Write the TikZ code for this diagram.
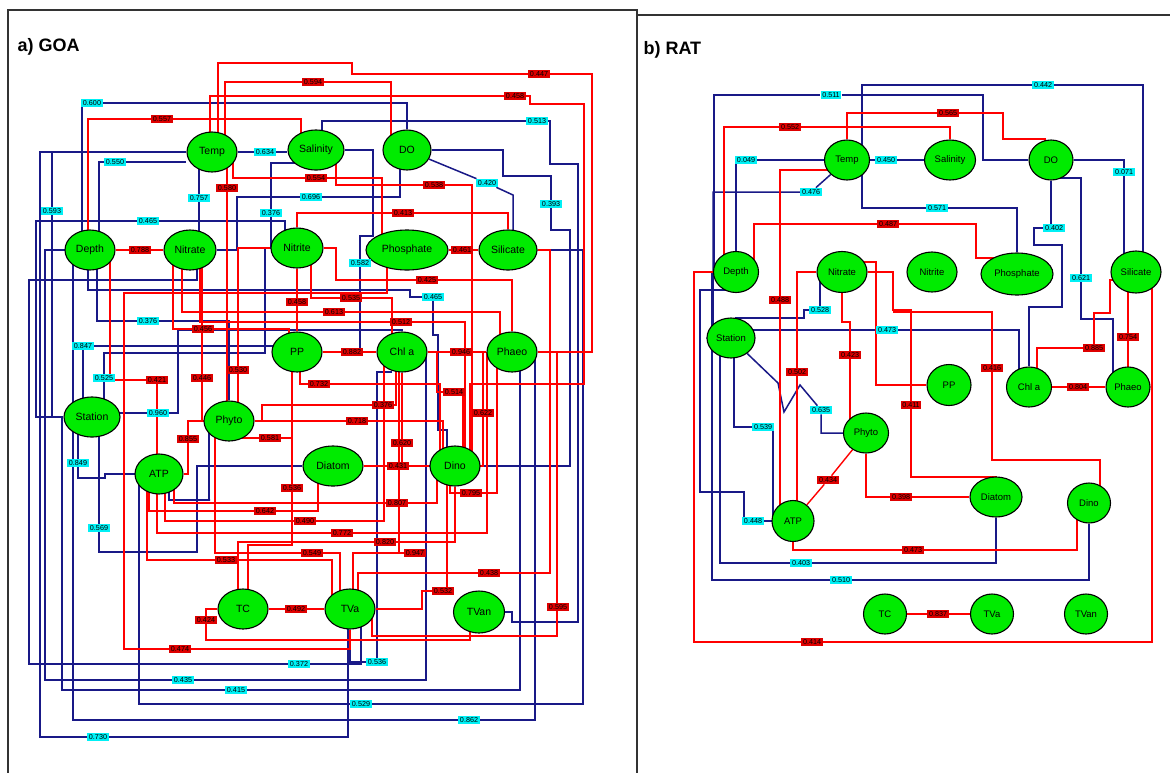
\documentclass[tikz,border=0pt]{standalone}
\usepackage{fontspec}
\setmainfont{Liberation Sans}
\usetikzlibrary{shapes.geometric}
\pgfdeclarelayer{bg}
\pgfdeclarelayer{edges}
\pgfsetlayers{bg,edges,main}
\definecolor{ngreen}{RGB}{0,235,0}
\definecolor{ncyan}{RGB}{0,240,245}
\definecolor{nlred}{RGB}{222,0,0}
\definecolor{nred}{RGB}{255,0,0}
\definecolor{nblue}{RGB}{25,25,135}
\begin{document}
\begin{tikzpicture}[x=1pt,y=-1pt,
  gn/.style={ellipse,draw=black,line width=1.1pt,fill=ngreen,inner sep=0pt,font=\fontsize{10.5}{11}\selectfont},
  gr/.style={gn,font=\fontsize{9.5}{10}\selectfont},
  cl/.style={fill=ncyan,inner xsep=1.6pt,inner ysep=1.6pt,font=\fontsize{7.2}{7.2}\selectfont},
  rl/.style={fill=nlred,inner xsep=1.6pt,inner ysep=1.6pt,font=\fontsize{7.2}{7.2}\selectfont},
  bl/.style={draw=nblue,line width=1.5pt},
  rd/.style={draw=nred,line width=1.4pt},
  frame/.style={draw=black!80,line width=1.4pt}]
\useasboundingbox (0,0) rectangle (1170,772);
\begin{pgfonlayer}{bg}
\fill[white] (0,0) rectangle (1170,772);
\end{pgfonlayer}
% frames
\draw[frame] (8,790) -- (8,10) -- (637,10) -- (637,790);
\draw[frame] (637,15) -- (1172,15);
\node[anchor=west,font=\fontsize{18}{20}\selectfont\bfseries] (ta) at (14,47) {a) GOA};
\node[anchor=west,font=\fontsize{18}{20}\selectfont\bfseries] (tb) at (640,50) {b) RAT};

% ===== left nodes =====
\node[gn,minimum width=50,minimum height=40] (Temp) at (212,152) {Temp};
\node[gn,minimum width=56,minimum height=40] (Salinity) at (316,150) {Salinity};
\node[gn,minimum width=48,minimum height=40] (DO) at (407,150) {DO};
\node[gn,minimum width=50,minimum height=40] (Depth) at (90,250) {Depth};
\node[gn,minimum width=52,minimum height=40] (Nitrate) at (190,250) {Nitrate};
\node[gn,minimum width=52,minimum height=40] (Nitrite) at (297,248) {Nitrite};
\node[gn,minimum width=82,minimum height=40] (Phosphate) at (407,250) {Phosphate};
\node[gn,minimum width=58,minimum height=40] (Silicate) at (508,250) {Silicate};
\node[gn,minimum width=50,minimum height=40] (PP) at (297,352) {PP};
\node[gn,minimum width=50,minimum height=40] (Chla) at (402,352) {Chl a};
\node[gn,minimum width=50,minimum height=40] (Phaeo) at (512,352) {Phaeo};
\node[gn,minimum width=56,minimum height=40] (Station) at (92,417) {Station};
\node[gn,minimum width=50,minimum height=40] (Phyto) at (229,421) {Phyto};
\node[gn,minimum width=48,minimum height=40] (ATP) at (159,474) {ATP};
\node[gn,minimum width=60,minimum height=40] (Diatom) at (333,466) {Diatom};
\node[gn,minimum width=50,minimum height=40] (Dino) at (455,466) {Dino};
\node[gn,minimum width=50,minimum height=40] (TC) at (243,609) {TC};
\node[gn,minimum width=50,minimum height=40] (TVa) at (350,609) {TVa};
\node[gn,minimum width=51,minimum height=42] (TVan) at (479,612) {TVan};

% ===== left labels (cyan) =====
\node[cl] (c600) at (92,103) {0.600};
\node[cl] (c550) at (115,162) {0.550};
\node[cl] (c593) at (52,211) {0.593};
\node[cl] (c465a) at (148,221) {0.465};
\node[cl] (c757) at (199,198) {0.757};
\node[cl] (c634) at (265,152) {0.634};
\node[cl] (c376a) at (271,213) {0.376};
\node[cl] (c696) at (311,197) {0.696};
\node[cl] (c420) at (487,183) {0.420};
\node[cl] (c513) at (537,121) {0.513};
\node[cl] (c393) at (551,204) {0.393};
\node[cl] (c582) at (360,263) {0.582};
\node[cl] (c465b) at (433,297) {0.465};
\node[cl] (c376b) at (148,321) {0.376};
\node[cl] (c847) at (83,346) {0.847};
\node[cl] (c525) at (104,378) {0.525};
\node[cl] (c960) at (158,413) {0.960};
\node[cl] (c849) at (78,463) {0.849};
\node[cl] (c569) at (99,528) {0.569};
\node[cl] (c372) at (299,664) {0.372};
\node[cl] (c536) at (377,662) {0.536};
\node[cl] (c435) at (183,680) {0.435};
\node[cl] (c415) at (236,690) {0.415};
\node[cl] (c529) at (361,704) {0.529};
\node[cl] (c862) at (469,720) {0.862};
\node[cl] (c730) at (98,737) {0.730};

% ===== left labels (red) =====
\node[rl] (r594) at (313,82) {0.594};
\node[rl] (r447) at (539,74) {0.447};
\node[rl] (r458a) at (515,96) {0.458};
\node[rl] (r557) at (162,119) {0.557};
\node[rl] (r554) at (316,178) {0.554};
\node[rl] (r580) at (227,188) {0.580};
\node[rl] (r538) at (434,185) {0.538};
\node[rl] (r413) at (403,213) {0.413};
\node[rl] (r788) at (140,250) {0.788};
\node[rl] (r461) at (462,250) {0.461};
\node[rl] (r425) at (427,280) {0.425};
\node[rl] (r535) at (351,298) {0.535};
\node[rl] (r458b) at (297,302) {0.458};
\node[rl] (r613) at (334,312) {0.613};
\node[rl] (r512) at (401,322) {0.512};
\node[rl] (r456) at (203,329) {0.456};
\node[rl] (r421) at (157,380) {0.421};
\node[rl] (r446) at (202,378) {0.446};
\node[rl] (r530) at (238,370) {0.530};
\node[rl] (r732) at (319,384) {0.732};
\node[rl] (r882) at (352,352) {0.882};
\node[rl] (r946) at (461,352) {0.946};
\node[rl] (r514) at (454,392) {0.514};
\node[rl] (r376c) at (383,405) {0.376};
\node[rl] (r718) at (357,421) {0.718};
\node[rl] (r622) at (483,413) {0.622};
\node[rl] (r620) at (402,443) {0.620};
\node[rl] (r431) at (398,466) {0.431};
\node[rl] (r855) at (188,439) {0.855};
\node[rl] (r581) at (270,438) {0.581};
\node[rl] (r536r) at (292,488) {0.536};
\node[rl] (r795) at (471,493) {0.795};
\node[rl] (r807) at (397,503) {0.807};
\node[rl] (r642) at (265,511) {0.642};
\node[rl] (r490) at (305,521) {0.490};
\node[rl] (r772) at (342,533) {0.772};
\node[rl] (r820) at (385,542) {0.820};
\node[rl] (r549) at (312,553) {0.549};
\node[rl] (r947) at (415,553) {0.947};
\node[rl] (r533) at (226,560) {0.533};
\node[rl] (r438) at (489,573) {0.438};
\node[rl] (r532) at (443,591) {0.532};
\node[rl] (r424) at (206,620) {0.424};
\node[rl] (r492) at (296,609) {0.492};
\node[rl] (r474) at (180,649) {0.474};
\node[rl] (r595) at (558,607) {0.595};

% ===== right nodes =====
\node[gr,minimum width=45,minimum height=40] (RTemp) at (847,160) {Temp};
\node[gr,minimum width=51,minimum height=40] (RSal) at (950,160) {Salinity};
\node[gr,minimum width=44,minimum height=40] (RDO) at (1051,160) {DO};
\node[gr,minimum width=45,minimum height=41] (RDepth) at (736,272) {Depth};
\node[gr,minimum width=50,minimum height=41] (RNitrate) at (842,272) {Nitrate};
\node[gr,minimum width=50,minimum height=40] (RNitrite) at (932,272) {Nitrite};
\node[gr,minimum width=72,minimum height=42] (RPhos) at (1017,274) {Phosphate};
\node[gr,minimum width=50,minimum height=42] (RSil) at (1136,272) {Silicate};
\node[gr,minimum width=48,minimum height=40] (RStation) at (731,338) {Station};
\node[gr,minimum width=44,minimum height=41] (RPP) at (949,385) {PP};
\node[gr,minimum width=45,minimum height=40] (RChla) at (1029,387) {Chl a};
\node[gr,minimum width=44,minimum height=40] (RPhaeo) at (1128,387) {Phaeo};
\node[gr,minimum width=45,minimum height=40] (RPhyto) at (866,433) {Phyto};
\node[gr,minimum width=52,minimum height=40] (RDiatom) at (996,497) {Diatom};
\node[gr,minimum width=43,minimum height=40] (RDino) at (1089,503) {Dino};
\node[gr,minimum width=42,minimum height=41] (RATP) at (793,521) {ATP};
\node[gr,minimum width=43,minimum height=40] (RTC) at (885,614) {TC};
\node[gr,minimum width=43,minimum height=40] (RTVa) at (992,614) {TVa};
\node[gr,minimum width=43,minimum height=40] (RTVan) at (1086,614) {TVan};

% ===== right labels =====
\node[cl] (Rl511) at (831,95) {0.511};
\node[cl] (Rl442) at (1043,85) {0.442};
\node[cl] (Rl571) at (937,208) {0.571};
\node[cl] (Rl049) at (746,160) {0.049};
\node[cl] (Rl476) at (811,192) {0.476};
\node[cl] (Rl450) at (886,160) {0.450};
\node[cl] (Rl071) at (1124,172) {0.071};
\node[cl] (Rl402) at (1054,228) {0.402};
\node[cl] (Rl621) at (1081,278) {0.621};
\node[cl] (Rl528) at (820,310) {0.528};
\node[cl] (Rl473) at (887,330) {0.473};
\node[cl] (Rl635) at (821,410) {0.635};
\node[cl] (Rl539) at (763,427) {0.539};
\node[cl] (Rl448) at (753,521) {0.448};
\node[cl] (Rl403) at (801,563) {0.403};
\node[cl] (Rl510) at (841,580) {0.510};
\node[rl] (Rl552) at (790,127) {0.552};
\node[rl] (Rl565) at (948,113) {0.565};
\node[rl] (Rl488) at (780,300) {0.488};
\node[rl] (Rl487) at (888,224) {0.487};
\node[rl] (Rl414) at (812,642) {0.414};
\node[rl] (Rl502) at (797,372) {0.502};
\node[rl] (Rl423) at (850,355) {0.423};
\node[rl] (Rl411) at (911,405) {0.411};
\node[rl] (Rl416) at (992,368) {0.416};
\node[rl] (Rl434) at (828,480) {0.434};
\node[rl] (Rl398) at (901,497) {0.398};
\node[rl] (Rl473r) at (913,550) {0.473};
\node[rl] (Rl837) at (938,614) {0.837};
\node[rl] (Rl804) at (1078,387) {0.804};
\node[rl] (Rl754) at (1128,337) {0.754};
\node[rl] (Rl885) at (1094,348) {0.885};

\begin{pgfonlayer}{edges}
% ----- left blue -----
\draw[bl] ([xshift=-8pt]Depth.center) |- (c600) -| (DO);
\draw[bl] ([xshift=9pt]Depth.center) |- (c550) -- (Temp.west |- c550);
\draw[bl] (Temp) -| (c593) |- (Station);
\draw[bl] ([xshift=-12pt]Nitrite.center) |- (c465a) -| (36,417) -- (Station);
\draw[bl] (c757 |- Temp) -- (c757 |- Nitrate);
\draw[bl] (Temp) -- (c634) -- (Salinity.west |- c634);
\draw[bl] ([yshift=-13pt]Salinity.center) -| (c376a) |- (Nitrite);
\draw[bl] (Nitrate) -| (237,197) -- (c696) -| ([xshift=-7pt]DO.center);
\draw[bl] (DO) -- (c420) -- (513,195) |- (Silicate);
\draw[bl] ([xshift=6pt]Salinity.center) |- (c513) -| (550,164) -| (578,622) -- (512,622) |- (TVan);
\draw[bl] (DO) -| (503,176) -| (c393) -- (551,230) -| (570,466) -- (Dino);
\draw[bl] (Salinity) -| (373,236) -| (c582) |- (Chla);
\draw[bl] ([xshift=-2pt]Depth.center) |- (410,290) |- (c465b) |- (438,335) |- (447,430) |- (Dino);
\draw[bl] ([xshift=7pt]Depth.center) |- (c376b) -| (Phyto);
\draw[bl] ([xshift=-9pt]Station.center) |- (c847) -- (c847 -| PP);
\draw[bl] ([xshift=12pt]Station.center) |- (c525) |- (265,353) |- (Nitrite);
\draw[bl] ([yshift=4pt]Station.center) -- (c960) -| (178,330) -| (Chla);
\draw[bl] (c849 |- Station) -- (c849) |- (105,478) |- (ATP);
\draw[bl] (c569 |- Station) -- (c569) |- (197,552) |- (Diatom);
\draw[bl] ([xshift=7pt]Nitrate.center) |- (29,280) |- (c372) -| ([xshift=11pt]TVa.center);
\draw[bl] ([xshift=-10pt,yshift=-20pt]Chla.center) -| (c536) -| (TVa);
\draw[bl] ([xshift=24pt]Chla.center) |- (c435) -| (45,250) -- (Depth);
\draw[bl] ([xshift=8pt]Phaeo.center) |- (c415) -| (62,417) -- (Station);
\draw[bl] (Silicate) -| (583,704) -- (c529) -| (139,474) -- (ATP);
\draw[bl] ([xshift=23pt]Phaeo.center) |- (c862) -| (73,250) -- (Depth);
\draw[bl] ([xshift=-2pt]TVa.center) |- (c730) -| (40,152) -- (Temp);
\draw[bl] ([xshift=-20pt]Phyto.center) |- (210,500) -| ([xshift=10pt]ATP.center);
% ----- left red -----
\draw[rd] ([xshift=13pt]Temp.center) |- (r594) -| ([xshift=-16pt]DO.center);
\draw[rd] ([xshift=6pt]Temp.center) |- (352,63) |- (r447) -| (592,352) -- (Phaeo);
\draw[rd] ([xshift=-2pt]Temp.center) |- (r458a) -| (530,104) -| (584,384) -| (470,465);
\draw[rd] ([xshift=-2pt]Depth.center) |- (r557) -| ([xshift=-15pt]Salinity.center);
\draw[rd] ([xshift=21pt]Temp.center) |- (r554) -| ([xshift=-25pt]Phosphate.center);
\draw[rd] (r580 |- Temp) -- (r580 |- Phyto);
\draw[rd] ([xshift=20pt]Salinity.center) |- (r538) -| (472,465);
\draw[rd] (Nitrite) |- (r413) -| (Silicate);
\draw[rd] (Depth) -- (r788) -- (Nitrate);
\draw[rd] (Phosphate) -- (r461) -- (Silicate);
\draw[rd] (Nitrite) -| (336,280) -- (r425) -| (Phaeo);
\draw[rd] ([xshift=14pt]Nitrite.center) |- (r535) -| ([xshift=-10pt]Chla.center);
\draw[rd] (Nitrite) -- (r458b) -- (PP);
\draw[rd] ([xshift=-8pt]Nitrate.center) |- (r613) -| ([xshift=-12pt]Phaeo.center);
\draw[rd] ([xshift=10pt]Nitrate.center) |- (r512) -| ([xshift=10pt]Dino.center);
\draw[rd] ([xshift=-17pt]Nitrate.center) |- (r456) -| ([xshift=-8pt]PP.center);
\draw[rd] ([xshift=20pt]Depth.center) |- (r421) -- (r421 |- ATP);
\draw[rd] (r446 |- Nitrate) -- (r446) |- ([xshift=-10pt]Phyto.center);
\draw[rd] (Nitrite) -| (r530) -- (r530 |- Phyto);
\draw[rd] (PP) -- (r882) -- (Chla);
\draw[rd] (Chla) -- (r946) -- (Phaeo);
\draw[rd] ([xshift=3pt]PP.center) |- (r732) -| ([xshift=-15pt]Dino.center);
\draw[rd] (Chla) -| (437,392) -- (r514) -| (463,465);
\draw[rd] (Phyto) -| (262,405) -- (r376c) -| ([xshift=-6pt]Chla.center);
\draw[rd] (Phyto) -- (r718) -| ([xshift=-12pt]Dino.center);
\draw[rd] (r622 |- Phaeo) -- (r622) |- ([xshift=20pt]Dino.center);
\draw[rd] (Chla) -- (r620) |- (Diatom);
\draw[rd] (Diatom) -- (r431) -- (Dino);
\draw[rd] (Phyto) -| (r855) |- (ATP);
\draw[rd] ([xshift=10pt,yshift=-17pt]Phyto.center) -- (r581) -| ([xshift=-5pt]PP.center);
\draw[rd] (r536r |- PP) -- (r536r) |- (248,545) -- ([xshift=5pt]TC.center);
\draw[rd] ([xshift=-15pt]Phaeo.center) |- (r795) -| ([xshift=-5pt]Dino.center);
\draw[rd] ([xshift=15pt]ATP.center) |- (r807) -| ([xshift=-18pt]Dino.center);
\draw[rd] ([xshift=-10pt]ATP.center) |- (r642) -| ([xshift=-15pt]Diatom.center);
\draw[rd] ([xshift=6pt]ATP.center) |- (r490) -| ([xshift=-18pt]Chla.center);
\draw[rd] ([xshift=-2pt]ATP.center) |- (r772) -| ([xshift=-25pt]Phaeo.center);
\draw[rd] ([xshift=-5pt]TC.center) |- (r820) -| (Dino);
\draw[rd] ([xshift=-14pt]Phyto.center) |- (r549) -| ([xshift=-10pt]TVa.center);
\draw[rd] ([xshift=3pt]TVa.center) |- (r947) -| ([xshift=-3pt]Chla.center);
\draw[rd] ([xshift=-12pt]ATP.center) |- (r533) -| ([xshift=-18pt]TVa.center);
\draw[rd] (Silicate) -| (550,573) -- (r438) -| ([xshift=8pt]TVa.center);
\draw[rd] (TVa) -| (422,591) -- (r532) -| ([xshift=-8pt]Dino.center);
\draw[rd] (TC) -| (r424) |- (470,640) -- ([xshift=-9pt]TVan.center);
\draw[rd] (TC) -- (r492) -- (TVa);
\draw[rd] (TVa) |- (r474) -| (124,293) -| ([xshift=-20pt]Phosphate.center);
\draw[rd] ([xshift=22pt]TVa.center) |- (557,636) |- (Phaeo);
% ----- right blue -----
\draw[bl] ([xshift=-22pt]RDepth.center) |- (Rl511) -| (983,160) -- (RDO);
\draw[bl] ([xshift=15pt]RTemp.center) |- (Rl442) -| ([xshift=7pt]RSil.center);
\draw[bl] ([xshift=15pt]RTemp.center) |- (Rl571) -| (RPhos);
\draw[bl] (RTemp) -- (Rl049) -| (RDepth);
\draw[bl] (RTemp) -- (Rl476) -| (713,338) -- (RStation);
\draw[bl] (RTemp) -- (Rl450) -- (RSal);
\draw[bl] (RDO) -| (Rl071) -- (Rl071 |- RSil);
\draw[bl] (RDO) |- (Rl402) -| (1034,245) -| (1062,307) -| (RChla);
\draw[bl] ([yshift=-18pt]RDO.center) -| (Rl621) |- (1113,319) -- ([xshift=-15pt]RPhaeo.center);
\draw[bl] ([xshift=-22pt]RNitrate.center) |- (Rl528) -| (804,318) -| ([xshift=5pt]RStation.center);
\draw[bl] ([yshift=8pt]RStation.center) -- (Rl473) -| ([xshift=-10pt]RChla.center);
\draw[bl] (RStation) -- (778,383) -- (784,412) -- (800,385) -- (Rl635) |- (RPhyto);
\draw[bl] ([xshift=3pt]RStation.center) |- (Rl539) -| (773,521) -- (RATP);
\draw[bl] (RATP) -- (Rl448) -| (744,492) -| (700,290) -- (728,290);
\draw[bl] ([xshift=-11pt]RStation.center) |- (Rl403) -| (RDiatom);
\draw[bl] ([xshift=-24pt]RDepth.center) |- (Rl510) -| (RDino);
% ----- right red -----
\draw[rd] ([xshift=-12pt]RDepth.center) |- (Rl552) -| (RSal);
\draw[rd] (RTemp) |- (Rl565) -| (1003,139) -| ([xshift=-6pt]RDO.center);
\draw[rd] ([yshift=-10pt]RTemp.center) -| (Rl488) -- (Rl488 |- RATP);
\draw[rd] ([xshift=18pt]RDepth.center) |- (Rl487) -| (976,258) -| ([xshift=-20pt]RPhos.center);
\draw[rd] (RDepth) -| (694,642) -- (Rl414) -| (1152,272);
\draw[rd] (RNitrate) -| (Rl502) -- (Rl502 |- RATP);
\draw[rd] (RNitrate) |- (850,322) -- (Rl423) -- (Rl423 |- RPhyto);
\draw[rd] (RNitrate) -| (893,310) -| (Rl411) |- (996,477) -- (RDiatom);
\draw[rd] (893,312) -| (Rl416) |- (1100,460) -- ([xshift=11pt]RDino.center);
\draw[rd] ([yshift=10pt]RNitrate.center) -| (876,385) -- (RPP);
\draw[rd] (RPhyto) -- (Rl434) -- (RATP);
\draw[rd] (RPhyto) |- (Rl398) -- (RDiatom);
\draw[rd] (RATP) |- (Rl473r) -| ([xshift=-12pt]RDino.center);
\draw[rd] (RTC) -- (Rl837) -- (RTVa);
\draw[rd] (RChla) -- (Rl804) -- (RPhaeo);
\draw[rd] (Rl754 |- RSil) -- (Rl754 |- RPhaeo);
\draw[rd] ([yshift=-8pt]RSil.center) -| (1110,313) -| (Rl885) -| ([xshift=8pt]RChla.center);
\end{pgfonlayer}
\end{tikzpicture}
\end{document}
